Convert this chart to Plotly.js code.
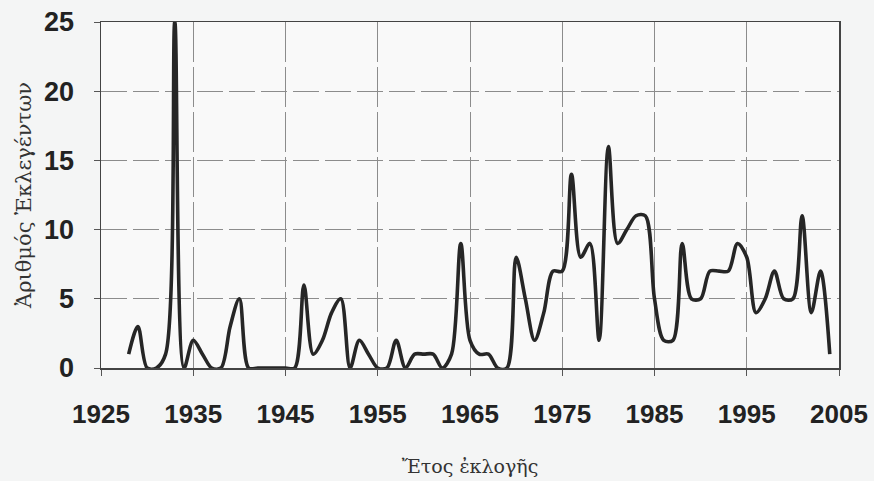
<!DOCTYPE html>
<html>
<head>
<meta charset="utf-8">
<script src="https://cdn.plot.ly/plotly-3.0.1.min.js"></script>
<style>
html,body{margin:0;padding:0;background:#f4f5f5;}
#chart{width:874px;height:481px;}
</style>
</head>
<body>
<div id="chart"></div>
<script>
const years = [1928,1929,1930,1931,1932,1933,1934,1935,1936,1937,1938,1939,1940,1941,1942,1943,1944,1945,1946,1947,1948,1949,1950,1951,1952,1953,1954,1955,1956,1957,1958,1959,1960,1961,1962,1963,1964,1965,1966,1967,1968,1969,1970,1971,1972,1973,1974,1975,1976,1977,1978,1979,1980,1981,1982,1983,1984,1985,1986,1987,1988,1989,1990,1991,1992,1993,1994,1995,1996,1997,1998,1999,2000,2001,2002,2003,2004];
const elected = [1,3,0,0,1,25,0,2,1,0,0,3,5,0,0,0,0,0,0,6,1,2,4,5,0,2,1,0,0,2,0,1,1,1,0,1,9,2,1,1,0,0,8,5,2,4,7,7,14,8,9,2,16,9,10,11,11,5,2,2,9,5,5,7,7,7,9,8,4,5,7,5,5,11,4,7,1];
const xTicks = [1925,1935,1945,1955,1965,1975,1985,1995,2005];
const yTicks = [0,5,10,15,20,25];
const xTitle = 'Ἔτος ἐκλογῆς';
const yTitle = 'Ἀριθμός Ἐκλεγέντων';

const trace = {
  x: years, y: elected, type: 'scatter', mode: 'lines',
  line: {color: '#262626', width: 3.6, shape: 'spline', smoothing: 0.9},
  hoverinfo: 'x+y'
};
const tickFont = {family: 'Liberation Sans, Arial, sans-serif', size: 26, color: '#222', weight: 'bold'};
const layout = {
  width: 874, height: 481,
  paper_bgcolor: '#f4f5f5', plot_bgcolor: '#f9f9f9',
  margin: {l: 101, r: 35, t: 22, b: 113},
  showlegend: false,
  xaxis: {
    range: [1925, 2005], tickvals: xTicks, ticktext: xTicks.map(String),
    tickfont: Object.assign({}, tickFont),
    ticks: 'outside', ticklen: 6, tickcolor: '#555', ticklabelstandoff: 16,
    showgrid: true, gridcolor: '#8c8c8c', gridwidth: 1, griddash: '40px,5px',
    showline: true, mirror: true, linecolor: '#444', linewidth: 1.5, zeroline: false,
    title: {text: xTitle, font: {family: 'DejaVu Serif, Liberation Serif, serif', size: 19, color: '#333'}, standoff: 32}
  },
  yaxis: {
    range: [0, 25], tickvals: yTicks, ticktext: yTicks.map(String),
    tickfont: Object.assign({}, tickFont, {size: 27}),
    ticks: 'outside', ticklen: 6, tickcolor: '#555', ticklabelstandoff: 14,
    showgrid: true, gridcolor: '#8c8c8c', gridwidth: 1, griddash: '26px,6px',
    showline: true, mirror: true, linecolor: '#444', linewidth: 1.5, zeroline: false,
    title: {text: yTitle, font: {family: 'DejaVu Serif, Liberation Serif, serif', size: 21, color: '#333'}, standoff: 6}
  }
};
Plotly.newPlot('chart', [trace], layout, {displayModeBar: false, staticPlot: true});
</script>
</body>
</html>
